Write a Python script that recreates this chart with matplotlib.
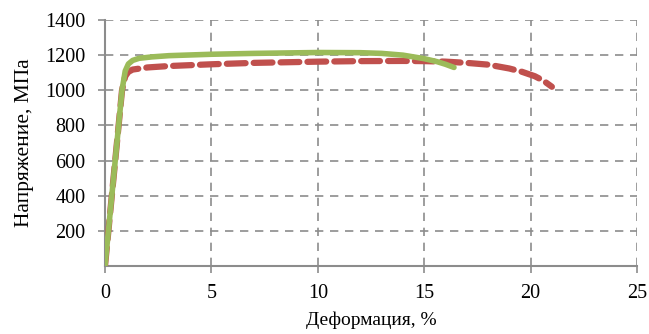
import matplotlib
matplotlib.use("Agg")
import matplotlib.pyplot as plt
import numpy as np

red_x = [0, 0.4, 0.8, 0.95, 1.1, 1.3, 2, 3, 5, 7, 10, 12, 14, 15, 16, 17, 18, 19, 19.6, 20.2, 20.6, 21.0]
red_y = [0, 500, 1000, 1080, 1105, 1118, 1130, 1138, 1148, 1156, 1163, 1166, 1167, 1166, 1163, 1156, 1146, 1124, 1105, 1080, 1055, 1020]

green_x = [0, 0.4, 0.8, 0.95, 1.1, 1.3, 1.6, 2.2, 3, 5, 7, 10, 12, 13, 14, 15, 15.6, 16.0, 16.4]
green_y = [0, 500, 1000, 1110, 1150, 1170, 1182, 1190, 1197, 1205, 1210, 1215, 1214, 1210, 1200, 1180, 1163, 1148, 1130]

x_ticks = [0, 5, 10, 15, 20, 25]
y_ticks = [200, 400, 600, 800, 1000, 1200, 1400]

plt.rcParams['font.family'] = ['Liberation Serif', 'DejaVu Serif']
fig = plt.figure(figsize=(6.49, 3.34), dpi=100)
ax = fig.add_axes([105/649, 1-266/334, (637-105)/649, (266-20)/334])

ax.plot(red_x, red_y, color='#c0504d', lw=4.5, dashes=(3, 1.3), dash_capstyle='round', solid_capstyle='round', zorder=3)
ax.plot(green_x, green_y, color='#9bbb59', lw=4, solid_capstyle='round', zorder=4)

ax.set_xlim(0, 25)
ax.set_ylim(0, 1400)
ax.set_xticks(x_ticks)
ax.set_yticks(y_ticks)
ax.grid(True, color='#8c8c8c', linestyle=(0, (5, 4)), lw=1.2)
ax.set_axisbelow(True)
for s in ['top', 'right']:
    ax.spines[s].set_visible(False)
for s in ['left', 'bottom']:
    ax.spines[s].set_color('#8c8c8c')
    ax.spines[s].set_linewidth(1.5)
ax.tick_params(colors='#8c8c8c', labelcolor='black', labelsize=14.5, length=5, width=1.2)
ax.tick_params(axis='y', pad=9)
ax.tick_params(axis='x', pad=8)
ax.set_xlabel('Деформация, %', fontsize=14, labelpad=6)
ax.set_ylabel('Напряжение, МПа', fontsize=15.5, labelpad=8)
fig.savefig('out.png', dpi=100)
